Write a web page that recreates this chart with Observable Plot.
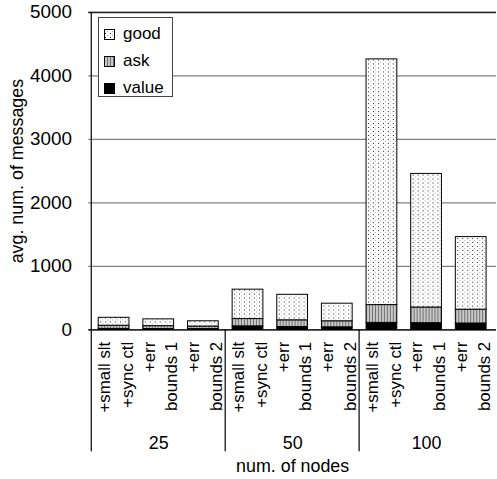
<!DOCTYPE html>
<html>
<head>
<meta charset="utf-8">
<script src="https://cdn.jsdelivr.net/npm/d3@7"></script>
<script src="https://cdn.jsdelivr.net/npm/@observablehq/plot@0.6"></script>
<style>
  html, body { margin: 0; padding: 0; background: white; overflow: hidden; }
  #wrap { position: relative; width: 497px; height: 479px; overflow: hidden; font-family: "Liberation Sans", Arial, sans-serif; }
  #legend { position: absolute; left: 98px; top: 17px; width: 75px; height: 80px; border: 1px solid #444; background: white; box-sizing: border-box; }
  .row { position: absolute; left: 5px; height: 20px; display: flex; align-items: center; font-size: 17px; color: black; }
  .row svg { margin-right: 8px; }
</style>
</head>
<body>
<div id="wrap"><div id="chart"></div><div id="legend"></div></div>
<script>
// ---- data ----
const groups = ["25", "50", "100"];
const variants = ["+small slt\n+sync ctl", "+err\nbounds 1", "+err\nbounds 2"];
const seriesNames = ["value", "ask", "good"];           // stacking order, bottom to top
const legendOrder = ["good", "ask", "value"];
const valueCounts = [15, 13, 12, 55, 45, 40, 110, 105, 100];
const askCounts   = [50, 45, 40, 115, 105, 95, 280, 247, 218];
const goodCounts  = [125, 107, 83, 463, 402, 277, 3870, 2104, 1143];
const yTicks = [0, 1000, 2000, 3000, 4000, 5000];
const yLabel = "avg. num. of messages";
const xLabel = "num. of nodes";

// ---- derived tables ----
const bars = [];
groups.forEach((g, gi) => variants.forEach((v, vi) => bars.push({key: g + "|" + vi, group: g, variant: v, i: gi * 3 + vi})));
const seriesValues = {value: valueCounts, ask: askCounts, good: goodCounts};
const rows = [];
for (const b of bars) for (const s of seriesNames) rows.push({key: b.key, series: s, count: seriesValues[s][b.i]});
const keys = bars.map(b => b.key);
const groupMid = groups.map((g, gi) => ({group: g, key: keys[gi * 3 + 1]}));

const fills = {good: "url(#pat-good)", ask: "url(#pat-ask)", value: "#000"};

const plot = Plot.plot({
  width: 501,
  height: 479,
  marginLeft: 89,
  marginRight: 1,
  marginTop: 12,
  marginBottom: 147,
  style: {fontFamily: "'Liberation Sans', Arial, sans-serif", fontSize: "17px", background: "white", color: "black", overflow: "visible"},
  x: {domain: keys, paddingInner: 0.32, paddingOuter: 0.16, axis: null},
  y: {domain: [0, 5000], axis: null},
  color: {domain: legendOrder, range: legendOrder.map(s => fills[s])},
  marks: [
    Plot.gridY(yTicks, {stroke: "#808080", strokeOpacity: 1, strokeWidth: 1.2}),
    Plot.axisY(yTicks, {tickSize: 0, tickPadding: 17, fontSize: 19, label: null, tickFormat: d => String(d)}),
    Plot.barY(rows, {x: "key", y: "count", fill: "series", stroke: "black", strokeWidth: 1}),
    Plot.ruleY([5000], {stroke: "#222", strokeWidth: 1.5}),
    Plot.ruleY([0], {stroke: "black", strokeWidth: 1.2}),
    Plot.text(bars, {x: "key", y: () => 0, text: "variant", rotate: -90, textAnchor: "end", lineAnchor: "middle", lineHeight: 1.35, dy: 12, fontSize: 17}),
    Plot.text(groupMid, {x: "key", y: () => 0, text: "group", dy: 114, fontSize: 18}),
    Plot.text([xLabel], {frameAnchor: "bottom", textAnchor: "middle", lineAnchor: "middle", dy: 138, fontSize: 18}),
    Plot.text([yLabel], {frameAnchor: "left", textAnchor: "middle", lineAnchor: "middle", rotate: -90, dx: -72, fontSize: 18})
  ]
});

// patterns
const svg = d3.select(plot);
const defs = svg.insert("defs", ":first-child");
const pg = defs.append("pattern").attr("id", "pat-good").attr("patternUnits", "userSpaceOnUse").attr("width", 5).attr("height", 4);
pg.append("rect").attr("width", 5).attr("height", 4).attr("fill", "white");
pg.append("rect").attr("x", 1).attr("y", 0).attr("width", 1).attr("height", 1).attr("fill", "#222");
pg.append("rect").attr("x", 3).attr("y", 2).attr("width", 1).attr("height", 1).attr("fill", "#aaa");
const pa = defs.append("pattern").attr("id", "pat-ask").attr("patternUnits", "userSpaceOnUse").attr("width", 3).attr("height", 2);
pa.append("rect").attr("width", 3).attr("height", 2).attr("fill", "#c8c8c8");
pa.append("rect").attr("x", 0).attr("width", 1).attr("height", 2).attr("fill", "#707070");

// group dividers and left axis line, positioned through Plot's own scales
const xs = plot.scale("x");
const ys = plot.scale("y");
const halfGap = (xs.step - xs.bandwidth) / 2;
const y0 = ys.apply(0), yTop = ys.apply(5000), yBottom = ys.apply(0) + 123;
groups.forEach((g, gi) => {
  const xd = xs.apply(keys[gi * 3]) - halfGap;
  svg.append("line").attr("x1", xd).attr("x2", xd).attr("y1", gi === 0 ? yTop : y0).attr("y2", yBottom)
    .attr("stroke", "black").attr("stroke-width", 1.2);
});

document.getElementById("chart").appendChild(plot);

// legend
const legend = d3.select("#legend");
legendOrder.forEach((s, i) => {
  const row = legend.append("div").attr("class", "row").style("top", (6 + i * 27) + "px");
  const sw = row.append("svg").attr("width", 11).attr("height", 11);
  sw.append("rect").attr("x", 0.5).attr("y", 0.5).attr("width", 10).attr("height", 10).attr("fill", fills[s]).attr("stroke", "black");
  row.append("span").text(s);
});
</script>
</body>
</html>
